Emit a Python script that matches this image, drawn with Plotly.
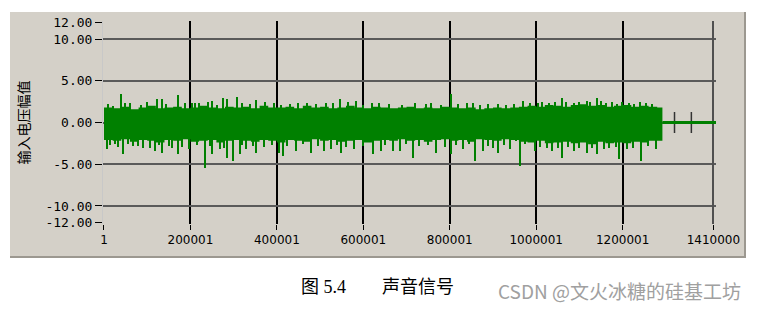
import plotly.graph_objects as go

# ---------------- data ----------------
x_tick_vals = [1, 200001, 400001, 600001, 800001, 1000001, 1200001, 1410000]
x_tick_text = ["1", "200001", "400001", "600001", "800001", "1000001", "1200001", "1410000"]
x_grid_vals = [200001, 400001, 600001, 800001, 1000001, 1200001]
x_grid_end = [1410000]
y_tick_vals = [12, 10, 5, 0, -5, -10, -12]
y_tick_text = ["12.00", "10.00", "5.00", "0.00", "-5.00", "-10.00", "-12.00"]
y_grid_vals = [10, 5, 0, -5, -10]

# dense band envelope (sample index every 20000 up to the end of the sound)
band_x = [i * 20000 for i in range(65)] + [1292000]
band_hi = [1.8, 1.7, 1.9, 1.6, 1.8, 2.0, 1.7, 1.8, 1.9, 1.7, 1.8, 2.0, 1.8, 1.7, 1.9, 1.8,
           1.9, 1.7, 2.0, 1.8, 1.8, 1.9, 1.7, 2.0, 1.8, 1.9, 1.7, 1.8, 2.0, 1.8, 1.7, 1.9,
           1.8, 1.7, 1.8, 1.9, 1.7, 1.8, 1.7, 1.9, 1.8, 1.7, 1.8, 1.6, 1.7, 1.8, 1.7, 1.8,
           1.9, 2.0, 1.9, 2.1, 2.0, 1.9, 2.1, 2.2, 2.0, 2.1, 1.9, 2.0, 2.1, 1.9, 2.0, 1.9, 1.8, 1.8]
band_lo = [-2.1, -2.2, -2.0, -2.3, -2.1, -2.2, -2.4, -2.1, -2.2, -2.0, -2.3, -2.2, -2.1, -2.4, -2.2, -2.1,
           -2.2, -2.3, -2.1, -2.2, -2.4, -2.1, -2.2, -2.3, -2.0, -2.2, -2.1, -2.3, -2.2, -2.1, -2.4, -2.2,
           -2.1, -2.2, -2.0, -2.2, -2.1, -2.3, -2.1, -2.0, -2.2, -2.1, -2.3, -2.0, -2.1, -2.2, -2.0, -2.1,
           -2.3, -2.4, -2.2, -2.5, -2.4, -2.3, -2.5, -2.4, -2.6, -2.3, -2.5, -2.4, -2.5, -2.3, -2.4, -2.2, -2.2, -2.2]

# tall spikes
up_x = [21000, 39000, 60000, 122000, 134000, 171000, 187000, 205000, 221000, 251000, 275000,
        286000, 309000, 353000, 394000, 450000, 514000, 531000, 547000, 584000, 637000, 757000,
        803000, 854000, 911000, 969000, 1004000, 1031000, 1059000, 1089000, 1117000, 1142000,
        1151000, 1163000, 1188000, 1227000, 1255000, 1280000]
up_y = [1.96, 3.44, 2.36, 2.76, 2.76, 3.28, 2.36, 2.36, 2.36, 2.56, 2.96,
        2.76, 3.04, 2.64, 2.36, 2.36, 2.36, 2.36, 2.76, 2.56, 2.36, 2.36,
        3.36, 2.36, 2.16, 2.56, 2.36, 2.36, 2.96, 2.36, 2.56, 2.96,
        2.56, 2.36, 2.16, 2.16, 2.36, 1.76]
dn_x = [7000, 25000, 44000, 67000, 90000, 118000, 134000, 157000, 171000, 198000, 233000,
        251000, 268000, 284000, 298000, 314000, 330000, 353000, 406000, 415000, 445000, 480000,
        510000, 526000, 549000, 579000, 623000, 641000, 669000, 685000, 715000, 768000, 803000,
        831000, 858000, 877000, 900000, 911000, 939000, 953000, 964000, 997000, 1036000, 1059000,
        1089000, 1117000, 1140000, 1158000, 1193000, 1211000, 1243000, 1278000]
dn_y = [-3.23, -2.63, -3.83, -2.83, -3.03, -3.43, -3.63, -3.03, -3.83, -3.23, -5.43,
        -3.83, -3.23, -4.23, -4.63, -3.83, -3.23, -3.63, -3.63, -4.03, -3.43, -3.63,
        -3.43, -3.23, -3.63, -3.23, -3.83, -3.43, -3.43, -3.43, -4.23, -3.63, -3.83,
        -3.23, -4.63, -3.43, -3.03, -3.63, -3.23, -2.23, -5.23, -3.43, -3.43, -4.23,
        -3.43, -3.63, -3.83, -3.23, -4.43, -3.23, -4.63, -3.23]

# medium spikes
mid_up_x = [10000, 48000, 85000, 100000, 145000, 210000, 240000, 262000, 320000, 338000, 372000,
            410000, 430000, 470000, 490000, 565000, 600000, 620000, 660000, 690000, 720000, 745000,
            780000, 820000, 840000, 870000, 890000, 930000, 950000, 985000, 1015000, 1045000,
            1070000, 1100000, 1125000, 1175000, 1200000, 1215000, 1240000, 1268000]
mid_up_y = [2.2, 2.3, 2.1, 2.4, 2.2, 2.3, 2.4, 2.1, 2.3, 2.2, 2.4, 2.1, 2.2, 2.3, 2.2, 2.4, 2.1, 2.3,
            2.2, 2.1, 2.3, 2.2, 2.1, 2.2, 2.3, 2.1, 2.2, 2.1, 2.2, 2.3, 2.4, 2.5, 2.4, 2.5, 2.4,
            2.4, 2.5, 2.3, 2.4, 2.2]
mid_dn_x = [15000, 33000, 55000, 78000, 108000, 128000, 150000, 180000, 215000, 245000, 278000,
            320000, 345000, 370000, 390000, 425000, 460000, 495000, 540000, 560000, 600000, 650000,
            700000, 730000, 750000, 790000, 815000, 845000, 890000, 925000, 975000, 1010000,
            1025000, 1050000, 1075000, 1100000, 1130000, 1170000, 1185000, 1225000, 1260000]
mid_dn_y = [-2.7, -2.9, -2.6, -2.8, -3.0, -2.7, -2.8, -2.9, -2.7, -2.8, -3.0, -2.7, -2.8, -2.9,
            -2.7, -2.8, -2.6, -2.8, -2.7, -2.9, -2.8, -2.7, -2.6, -2.8, -2.7, -2.9, -2.7, -2.6,
            -2.8, -2.7, -2.6, -2.9, -3.0, -3.1, -2.9, -3.0, -3.1, -3.0, -2.9, -3.1, -2.8]

# silent tail after the sound ends
tail_x = [1292000, 1416000]
tail_y = [0, 0]
mark_x = [1320000, 1359000]
mark_y = [0, 0]

GREEN = "#008000"
W, H = 762, 310
L, R, T, B = 103, 716, 21, 224


def px(v):
    return (v - L) / (R - L)


def py(v):
    return (B - v) / (B - T)


fig = go.Figure()
fig.add_trace(go.Scatter(x=band_x, y=band_lo, mode="lines", line=dict(width=0, color=GREEN, shape="hv"),
                         hoverinfo="skip", showlegend=False))
fig.add_trace(go.Scatter(x=band_x, y=band_hi, mode="lines", line=dict(width=0, color=GREEN, shape="hv"),
                         fill="tonexty", fillcolor=GREEN, hoverinfo="skip", showlegend=False))
for xs, ys in [(up_x, up_y), (dn_x, dn_y), (mid_up_x, mid_up_y), (mid_dn_x, mid_dn_y)]:
    fig.add_trace(go.Bar(x=xs, y=ys, base=0, width=3200, marker=dict(color=GREEN, line=dict(width=0)),
                         showlegend=False, hoverinfo="skip"))
fig.add_trace(go.Scatter(x=tail_x, y=tail_y, mode="lines", line=dict(width=3, color=GREEN),
                         xaxis="x3", yaxis="y", showlegend=False, hoverinfo="skip"))
fig.add_trace(go.Scatter(x=mark_x, y=mark_y, mode="markers", xaxis="x2", yaxis="y2",
                         marker=dict(symbol="line-ns", size=15, line=dict(width=1.5, color="#333333")),
                         showlegend=False, hoverinfo="skip"))

xr = [-2300, 1416000]
yr = [-12.16, 12.16]
fig.update_layout(
    width=W, height=H,
    margin=dict(l=L, r=W - R, t=T, b=H - B, pad=0),
    paper_bgcolor="white", plot_bgcolor="white",
    barmode="overlay", bargap=0,
    xaxis=dict(range=xr, tickmode="array", tickvals=x_tick_vals, ticktext=x_tick_text,
               ticks="outside", ticklen=5, tickwidth=1, tickcolor="#000",
               showgrid=False, zeroline=False, showline=False,
               tickfont=dict(family="DejaVu Sans", size=12, color="#000")),
    yaxis=dict(range=yr, tickmode="array", tickvals=y_tick_vals, ticktext=y_tick_text,
               ticks="outside", ticklen=7, tickwidth=1, tickcolor="#000",
               showgrid=False, zeroline=False, showline=True, linecolor="#c8c8c8", linewidth=1,
               tickfont=dict(family="DejaVu Sans Mono", size=13, color="#000"),
               title=dict(text="输入电压幅值", standoff=12,
                          font=dict(family="Noto Sans CJK SC", size=14, color="#000"))),
    xaxis2=dict(overlaying="x", matches="x", range=xr, tickmode="array", tickvals=x_grid_vals,
                showgrid=True, gridcolor="#000000", gridwidth=1.5, showticklabels=False, ticks="",
                zeroline=False, anchor="y2"),
    xaxis3=dict(overlaying="x", matches="x", range=xr, tickmode="array", tickvals=x_grid_end,
                showgrid=True, gridcolor="#505050", gridwidth=1.5, showticklabels=False, ticks="",
                zeroline=False, anchor="y"),
    yaxis2=dict(overlaying="y", matches="y", range=yr, tickmode="array", tickvals=y_grid_vals,
                showgrid=True, gridcolor="#5a5a5a", gridwidth=1.5, showticklabels=False, ticks="",
                zeroline=False, anchor="x2"),
    shapes=[
        dict(type="rect", xref="paper", yref="paper", x0=px(10), x1=px(746), y0=py(258), y1=py(12),
             fillcolor="#d4d0c8", line=dict(width=0), layer="below"),
        dict(type="line", xref="paper", yref="paper", x0=px(745), x1=px(745), y0=py(258), y1=py(12),
             line=dict(width=2, color="#9c9890"), layer="below"),
        dict(type="line", xref="paper", yref="paper", x0=px(10), x1=px(746), y0=py(257), y1=py(257),
             line=dict(width=2, color="#9c9890"), layer="below"),
    ],
    annotations=[
        dict(text="图 5.4　　声音信号", xref="paper", yref="paper", x=px(377), y=py(287),
             xanchor="center", yanchor="middle", showarrow=False,
             font=dict(family="Liberation Serif, Noto Sans CJK SC", size=18, color="#000")),
        dict(text="CSDN @文火冰糖的硅基工坊", xref="paper", yref="paper", x=px(619), y=py(290),
             xanchor="center", yanchor="middle", showarrow=False,
             font=dict(family="Noto Sans CJK SC", size=19, color="#a0a0a0")),
    ],
)

fig.write_html("out.html")
